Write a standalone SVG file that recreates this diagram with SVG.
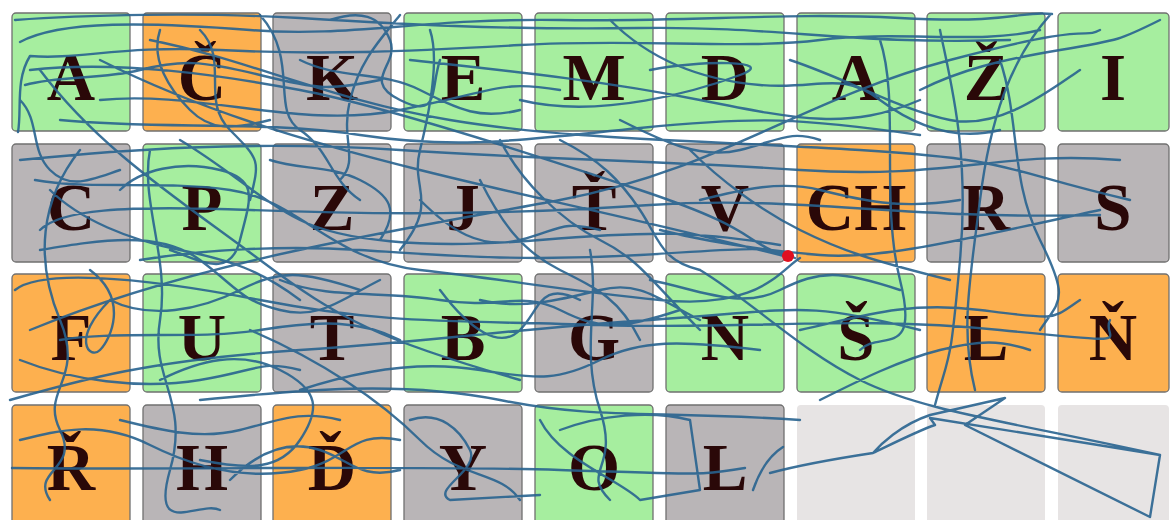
<svg xmlns="http://www.w3.org/2000/svg" width="1170" height="520" viewBox="0 0 1170 520">
<style>
.t{stroke:#707070;stroke-width:1.3}
.g{fill:#a6ee9f}.o{fill:#fdb04f}.y{fill:#b9b5b7}.e{fill:#e7e4e4}
text{font-family:"Liberation Serif","Times New Roman",serif;font-weight:bold;font-size:67px;fill:#2a0808;text-anchor:middle}
.p{fill:none;stroke:#28638f;stroke-width:2.4;stroke-linejoin:round;stroke-linecap:round;opacity:0.9}
</style>
<rect width="1170" height="520" fill="#ffffff"/>
<g id="tiles">
<g id="r1c1"><rect class="t g" x="12" y="13" width="118" height="118" rx="4"/><text x="71" y="100">A</text></g>
<g id="r1c2"><rect class="t o" x="143" y="13" width="118" height="118" rx="4"/><text x="202" y="100">Č</text></g>
<g id="r1c3"><rect class="t y" x="273" y="13" width="118" height="118" rx="4"/><text x="332" y="100">K</text></g>
<g id="r1c4"><rect class="t g" x="404" y="13" width="118" height="118" rx="4"/><text x="463" y="100">E</text></g>
<g id="r1c5"><rect class="t g" x="535" y="13" width="118" height="118" rx="4"/><text x="594" y="100">M</text></g>
<g id="r1c6"><rect class="t g" x="666" y="13" width="118" height="118" rx="4"/><text x="725" y="100">D</text></g>
<g id="r1c7"><rect class="t g" x="797" y="13" width="118" height="118" rx="4"/><text x="856" y="100">A</text></g>
<g id="r1c8"><rect class="t g" x="927" y="13" width="118" height="118" rx="4"/><text x="986" y="100">Ž</text></g>
<g id="r1c9"><rect class="t g" x="1058" y="13" width="111" height="118" rx="4"/><text x="1113" y="100">I</text></g>

<g id="r2c1"><rect class="t y" x="12" y="144" width="118" height="118" rx="4"/><text x="71" y="230">C</text></g>
<g id="r2c2"><rect class="t g" x="143" y="144" width="118" height="118" rx="4"/><text x="202" y="230">P</text></g>
<g id="r2c3"><rect class="t y" x="273" y="144" width="118" height="118" rx="4"/><text x="332" y="230">Z</text></g>
<g id="r2c4"><rect class="t y" x="404" y="144" width="118" height="118" rx="4"/><text x="463" y="230">J</text></g>
<g id="r2c5"><rect class="t y" x="535" y="144" width="118" height="118" rx="4"/><text x="594" y="230">Ť</text></g>
<g id="r2c6"><rect class="t y" x="666" y="144" width="118" height="118" rx="4"/><text x="725" y="230">V</text></g>
<g id="r2c7"><rect class="t o" x="797" y="144" width="118" height="118" rx="4"/><text x="856" y="230">CH</text></g>
<g id="r2c8"><rect class="t y" x="927" y="144" width="118" height="118" rx="4"/><text x="986" y="230">R</text></g>
<g id="r2c9"><rect class="t y" x="1058" y="144" width="111" height="118" rx="4"/><text x="1113" y="230">S</text></g>

<g id="r3c1"><rect class="t o" x="12" y="274" width="118" height="118" rx="4"/><text x="71" y="360">F</text></g>
<g id="r3c2"><rect class="t g" x="143" y="274" width="118" height="118" rx="4"/><text x="202" y="360">U</text></g>
<g id="r3c3"><rect class="t y" x="273" y="274" width="118" height="118" rx="4"/><text x="332" y="360">T</text></g>
<g id="r3c4"><rect class="t g" x="404" y="274" width="118" height="118" rx="4"/><text x="463" y="360">B</text></g>
<g id="r3c5"><rect class="t y" x="535" y="274" width="118" height="118" rx="4"/><text x="594" y="360">G</text></g>
<g id="r3c6"><rect class="t g" x="666" y="274" width="118" height="118" rx="4"/><text x="725" y="360">N</text></g>
<g id="r3c7"><rect class="t g" x="797" y="274" width="118" height="118" rx="4"/><text x="856" y="360">Š</text></g>
<g id="r3c8"><rect class="t o" x="927" y="274" width="118" height="118" rx="4"/><text x="986" y="360">L</text></g>
<g id="r3c9"><rect class="t o" x="1058" y="274" width="111" height="118" rx="4"/><text x="1113" y="360">Ň</text></g>

<g id="r4c1"><rect class="t o" x="12" y="405" width="118" height="125" rx="4"/><text x="71" y="490">Ř</text></g>
<g id="r4c2"><rect class="t y" x="143" y="405" width="118" height="125" rx="4"/><text x="202" y="490">H</text></g>
<g id="r4c3"><rect class="t o" x="273" y="405" width="118" height="125" rx="4"/><text x="332" y="490">Ď</text></g>
<g id="r4c4"><rect class="t y" x="404" y="405" width="118" height="125" rx="4"/><text x="463" y="490">Y</text></g>
<g id="r4c5"><rect class="t g" x="535" y="405" width="118" height="125" rx="4"/><text x="594" y="490">O</text></g>
<g id="r4c6"><rect class="t y" x="666" y="405" width="118" height="125" rx="4"/><text x="725" y="490">L</text></g>
<g id="r4c7"><rect class="e" x="797" y="405" width="118" height="125" rx="4"/></g>
<g id="r4c8"><rect class="e" x="927" y="405" width="118" height="125" rx="4"/></g>
<g id="r4c9"><rect class="e" x="1058" y="405" width="111" height="125" rx="4"/></g>
</g>
<g id="scanpath">
<path class="p" d="M20,42 C60,20 150,22 250,30 S420,18 560,20 S780,12 900,18 S1020,10 1052,14
M1040,30 C980,45 900,30 820,40 S640,38 520,45 S320,55 220,50 S80,60 30,56 C15,80 22,110 18,132
M30,70 C120,60 220,75 300,90 S520,150 640,190 S740,240 788,257
M100,60 C200,110 300,140 420,170 S600,210 788,257
M150,40 C250,60 330,100 450,120 S700,140 860,150 S1000,170 1130,200
M20,160 C120,150 250,140 400,150 S650,160 800,170 S1000,150 1120,160
M40,230 C60,210 120,205 250,210 S500,215 650,205 S900,220 1100,215
M15,290 C40,270 130,275 260,300 S450,320 600,325 S850,315 1000,330 S1100,340 1110,320
M10,400 C80,380 150,360 300,350 S500,330 650,320 S800,300 920,330
M12,468 C200,470 400,465 560,470 S700,475 745,468
M770,473 C800,465 840,458 873,453 C900,440 920,430 935,425 L930,418 L1160,455 L1150,517 L965,425 L1005,398 L930,415 C900,425 880,445 873,453
M1050,15 C1010,60 990,120 980,200 S960,330 975,390
M940,30 C950,80 970,150 960,260 S950,350 935,405
M590,250 C600,300 580,350 600,410 S580,470 610,500
M540,420 C560,460 620,480 640,500 L700,490 L690,420 C650,410 600,415 560,430
M410,420 C440,410 460,430 470,450 S430,490 450,500 L540,495
M150,150 C140,200 170,260 160,320 S190,400 170,470 S200,500 220,510
M80,150 C40,200 35,260 60,320 S40,390 60,430 S30,470 50,500
M40,70 C100,150 180,200 260,260 S380,340 520,380
M30,330 C200,260 400,230 560,200 S800,100 950,60 S1080,40 1100,30
M200,400 C300,390 400,380 500,400 S650,410 800,420
M790,60 C850,80 900,110 950,120 S1050,90 1080,70
M660,230 C700,240 760,250 820,255 S960,240 1100,210
M800,330 C850,320 900,300 980,310 S1050,320 1080,300
M330,20 C360,10 380,15 390,40 S360,80 400,100 S430,90 440,60
M260,15 C300,60 270,110 300,130 S330,180 360,200
M500,140 C520,180 560,220 600,240 S650,280 700,330
M20,440 C60,430 100,420 150,445 S250,480 300,470 S350,430 400,440
M700,270 C750,300 800,350 860,380 S1000,420 1160,455
M410,60 C500,70 600,80 700,100 S850,130 920,100
M100,100 C200,90 300,130 400,110 S500,80 560,90
M753,490 C760,470 770,455 783,447
M90,270 C130,300 110,340 100,350 S70,340 110,300
M430,30 C440,60 430,110 420,150 S440,200 400,250
M520,100 C600,120 700,90 740,75 S700,60 650,70
M880,40 C900,100 880,200 900,280 S880,330 860,350
M1000,60 C1020,120 1010,180 1040,240 S1060,300 1040,330
M250,330 C320,360 380,400 420,440 S500,470 520,500
M15,20 C80,15 200,12 300,18 S500,30 640,28 S850,45 1010,40
M60,120 C160,130 260,120 360,135 S520,140 640,128 S800,118 920,135
M180,140 C230,170 260,200 300,220 S420,250 540,240 S700,232 780,245
M35,180 C90,190 160,180 230,190 S330,260 420,270 S560,290 660,300 S780,270 800,258
M140,260 C200,250 280,245 360,250 S520,262 640,255 S760,245 795,258
M400,15 C380,40 360,60 350,100 S360,160 340,180
M610,20 C650,60 700,80 760,85 S840,70 880,100 S960,140 1000,130
M920,90 C960,70 1000,60 1060,50 S1120,40 1160,20
M690,150 C720,180 760,210 800,230 S870,260 950,280
M560,140 C600,160 620,180 640,210 S660,260 700,270
M280,280 C330,300 380,290 440,300 S520,290 560,310 S620,330 680,310
M60,340 C120,330 200,340 260,330 S360,320 400,340
M300,390 C360,370 420,360 480,370 S560,380 600,360 S680,340 760,350
M440,290 C470,330 500,350 520,330 S540,280 580,300
M650,280 C700,290 740,310 780,290 S840,270 900,290
M120,420 C160,430 200,440 240,430 S300,410 340,420
M230,480 C260,450 290,440 320,450 S360,480 400,470
M200,30 C230,60 200,100 230,130 S260,160 250,200
M50,190 C80,220 130,240 180,250 S260,270 300,300
M700,200 C740,190 780,180 820,190 S900,210 960,200
M820,400 C860,380 900,360 940,350 S1000,340 1030,350
M480,180 C500,220 520,250 560,270 S620,300 640,340
M25,85 C60,75 100,80 140,70 S200,60 260,75 S330,90 380,80
M160,30 C150,60 170,90 190,110 S230,130 270,120
M120,190 C140,170 180,160 220,170 S250,200 240,240 S200,260 170,250
M270,160 C300,170 330,165 360,180 S400,210 380,240
M40,250 C100,240 160,230 200,260 S240,300 280,310 S340,300 380,280
M110,300 C150,320 200,310 240,290 S300,270 360,290
M20,360 C70,380 140,390 200,380 S260,360 300,370
M160,380 C200,360 240,350 280,370 S320,410 300,440 S250,470 200,460
M420,200 C450,230 480,250 520,240 S560,220 600,230
M300,60 C340,80 380,70 420,90 S480,120 520,110
M620,120 C660,140 700,160 740,150 S790,130 820,140
M480,300 C520,310 560,300 600,290 S660,300 700,320
M20,100 C40,120 30,150 50,170 S90,180 120,170"/>
</g>
<circle cx="788" cy="256" r="6" fill="#e01020"/>
</svg>
